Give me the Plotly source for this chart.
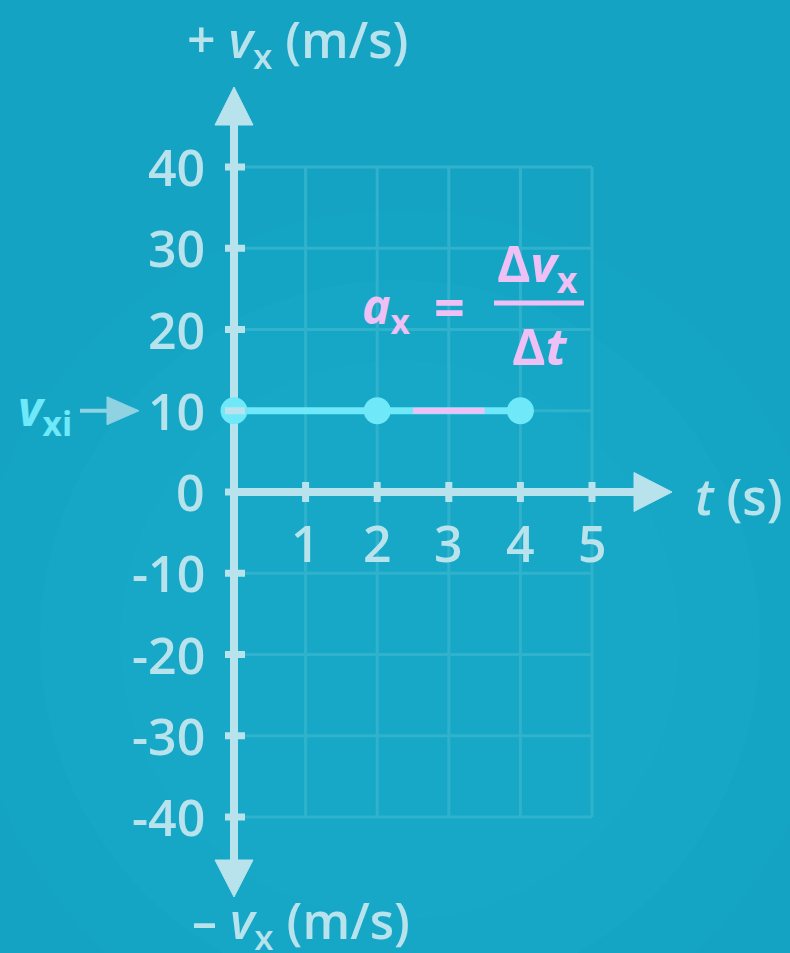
import plotly.graph_objects as go

# ---- data ----
t_ticks = [1, 2, 3, 4, 5]
v_ticks = [40, 30, 20, 10, 0, -10, -20, -30, -40]
v_tick_labels = ["40", "30", "20", "10", "0", "-10", "-20", "-30", "-40"]
t_points = [0, 2, 4]
v_points = [10, 10, 10]
dv_segment_t = [2.5, 3.5]
dv_segment_v = [10, 10]
v_initial = 10

BG = "#14a3c3"
AX = "#b8e3ed"
CYAN = "#6fe8f9"
PINK = "#efc0f5"
GRID = "#30b2cd"
FONT = "Open Sans"

# pixel mapping: t=0 -> 234px, 71.6 px per s; v=0 -> 492px, 8.125 px per m/s
px_t, px_v = 71.6, 8.125
x0, y0 = 234, 492
W, H = 790, 953
xr = [-x0 / px_t, (W - x0) / px_t]
yr = [(y0 - H) / px_v, y0 / px_v]


def dt(px):
    return px / px_t


def dv(px):
    return px / px_v


fig = go.Figure()

# soft background glow
for r, op in [(430, 0.10), (360, 0.12), (280, 0.12)]:
    fig.add_shape(type="circle", xref="paper", yref="paper",
                  x0=(400 - r) / W, x1=(400 + r) / W,
                  y0=1 - (640 + r) / H, y1=1 - (640 - r) / H,
                  fillcolor="#22b6cf", opacity=op, line_width=0, layer="below")

# grid
tmax, vmin, vmax = t_ticks[-1], v_ticks[-1], v_ticks[0]
for t in t_ticks:
    fig.add_shape(type="line", x0=t, x1=t, y0=vmin, y1=vmax,
                  line=dict(color=GRID, width=3), layer="below")
for v in v_ticks:
    fig.add_shape(type="line", x0=0, x1=tmax, y0=v, y1=v,
                  line=dict(color=GRID, width=3), layer="below")

# axes lines (ends where arrowheads begin)
v_top = vmax + dv(42)
v_bot = vmin - dv(43)
t_right = tmax + dt(42)
fig.add_trace(go.Scatter(x=[0, 0], y=[v_top, v_bot], mode="lines",
                         line=dict(color=AX, width=8), hoverinfo="skip"))
fig.add_trace(go.Scatter(x=[0, t_right], y=[0, 0], mode="lines",
                         line=dict(color=AX, width=8), hoverinfo="skip"))


def tri(xs, ys, color):
    fig.add_trace(go.Scatter(x=xs + [xs[0]], y=ys + [ys[0]], mode="lines",
                             fill="toself", fillcolor=color,
                             line=dict(color=color, width=1), hoverinfo="skip"))


hw = dt(19)
tri([-hw, hw, 0], [v_top, v_top, v_top + dv(38)], AX)
tri([-hw, hw, 0], [v_bot, v_bot, v_bot - dv(37)], AX)
tri([t_right, t_right, t_right + dt(38)], [dv(19.5), -dv(19.5), 0], AX)

# ticks
for v in v_ticks:
    fig.add_shape(type="line", x0=-dt(9), x1=dt(11), y0=v, y1=v,
                  line=dict(color=AX, width=7))
for t in t_ticks:
    fig.add_shape(type="line", x0=t, x1=t, y0=-dv(10), y1=dv(10),
                  line=dict(color=AX, width=7))

# tick labels
for v, lab in zip(v_ticks, v_tick_labels):
    fig.add_annotation(x=0, y=v, text=lab, showarrow=False, xanchor="right",
                       yanchor="middle", xshift=-27, yshift=0,
                       font=dict(family=FONT, size=50, color=AX, weight=600))
for t in t_ticks:
    fig.add_annotation(x=t, y=0, text=str(t), showarrow=False, xanchor="center",
                       yanchor="middle", yshift=-51,
                       font=dict(family=FONT, size=50, color=AX, weight=600))

# data line
fig.add_trace(go.Scatter(x=t_points, y=v_points, mode="lines+markers",
                         line=dict(color=CYAN, width=7),
                         marker=dict(size=27, color=CYAN, line_width=0)))
fig.add_trace(go.Scatter(x=dv_segment_t, y=dv_segment_v, mode="lines",
                         line=dict(color=PINK, width=6)))

# v_xi indicator
ARW = "#8fd2e2"
fig.add_trace(go.Scatter(x=[-dt(154), -dt(126)], y=[v_initial, v_initial], mode="lines",
                         line=dict(color=ARW, width=4)))
tri([-dt(127), -dt(127), -dt(95)], [v_initial + dv(14), v_initial - dv(14), v_initial], ARW)
fig.add_annotation(x=-dt(160), y=v_initial, text="<i>v</i><sub>xi</sub>", showarrow=False,
                   xanchor="right", yanchor="middle", yshift=0,
                   font=dict(family=FONT, size=48, color=CYAN, weight=700))

# axis labels
fig.add_annotation(x=dt(-49), y=dv(y0 - 42), text="+ <i>v</i><sub>x</sub> (m/s)", showarrow=False,
                   xanchor="left", yanchor="middle",
                   font=dict(family=FONT, size=50, color=AX, weight=600))
fig.add_annotation(x=dt(-44), y=-dv(923 - y0), text="– <i>v</i><sub>x</sub> (m/s)", showarrow=False,
                   xanchor="left", yanchor="middle",
                   font=dict(family=FONT, size=50, color=AX, weight=600))
fig.add_annotation(x=dt(459), y=0, text="<i>t</i> (s)", showarrow=False,
                   xanchor="left", yanchor="middle", yshift=-4,
                   font=dict(family=FONT, size=50, color=AX, weight=600))

# formula
fig.add_annotation(x=dt(360 - x0), y=dv(y0 - 308), text="<i>a</i><sub>x</sub>", showarrow=False,
                   xanchor="left", yanchor="middle",
                   font=dict(family=FONT, size=48, color=PINK, weight=700))
fig.add_annotation(x=dt(449 - x0), y=dv(y0 - 306), text="=", showarrow=False,
                   xanchor="center", yanchor="middle",
                   font=dict(family=FONT, size=54, color=PINK, weight=700))
fig.add_annotation(x=dt(495 - x0), y=dv(y0 - 265), text="Δ<i>v</i><sub>x</sub>", showarrow=False,
                   xanchor="left", yanchor="middle",
                   font=dict(family=FONT, size=51, color=PINK, weight=700))
fig.add_shape(type="line", x0=dt(494 - x0), x1=dt(584 - x0), y0=dv(y0 - 303), y1=dv(y0 - 303),
              line=dict(color=PINK, width=5))
fig.add_annotation(x=dt(540 - x0), y=dv(y0 - 345), text="Δ<i>t</i>", showarrow=False,
                   xanchor="center", yanchor="middle",
                   font=dict(family=FONT, size=51, color=PINK, weight=700))

fig.update_layout(width=W, height=H, margin=dict(l=0, r=0, t=0, b=0),
                  paper_bgcolor=BG, plot_bgcolor=BG, showlegend=False,
                  xaxis=dict(range=xr, visible=False, fixedrange=True),
                  yaxis=dict(range=yr, visible=False, fixedrange=True))
fig.write_html("out.html", config={"displayModeBar": False},
               post_script="document.body.style.margin='0';document.body.style.overflow='hidden';"
                           "document.body.style.background='" + BG + "';")
